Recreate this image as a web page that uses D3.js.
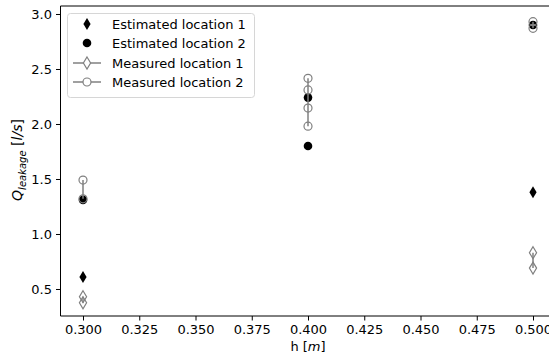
<!DOCTYPE html>
<html lang="en">
<head>
    <meta charset="UTF-8">
    <title>Leakage vs h</title>
    <script src="https://d3js.org/d3.v7.min.js"></script>
    <style>
        body { margin: 0; background: #fff; }
        svg { font-family: "DejaVu Sans", sans-serif; }
    </style>
</head>
<body>
    <div id="chart"></div>
    <script>
        // Data
        var est1H = [0.3, 0.5];
        var est1Q = [0.61, 1.38];
        var est2H = [0.3, 0.4, 0.4, 0.5];
        var est2Q = [1.31, 2.24, 1.80, 2.90];
        var meas1H = [0.3, 0.3, 0.5, 0.5];
        var meas1Q = [0.43, 0.375, 0.83, 0.69];
        var meas2H = [0.3, 0.3, 0.4, 0.4, 0.4, 0.4, 0.5, 0.5];
        var meas2Q = [1.49, 1.32, 2.415, 2.31, 2.145, 1.98, 2.93, 2.87];
        var xTicks = [0.3, 0.325, 0.35, 0.375, 0.4, 0.425, 0.45, 0.475, 0.5];
        var yTicks = [0.5, 1.0, 1.5, 2.0, 2.5, 3.0];
        var legendLabels = ["Estimated location 1", "Estimated location 2", "Measured location 1", "Measured location 2"];

        var width = 549, height = 359;
        var pL = 60.5, pR = 555.5, pT = 6, pB = 316;
        var grey = "#808080";
        var fs = "13px";

        var svg = d3.select("#chart").append("svg")
            .attr("width", width)
            .attr("height", height);

        var x = d3.scaleLinear().domain([0.29, 0.51]).range([pL, pR]);
        var y = d3.scaleLinear().domain([0.2545, 3.0727]).range([pB, pT]);

        // axes
        var xAxis = svg.append("g")
            .attr("transform", "translate(0," + pB + ")")
            .call(d3.axisBottom(x).tickValues(xTicks).tickFormat(d3.format(".3f")).tickSizeOuter(0).tickSize(4.5).tickPadding(4));
        var yAxis = svg.append("g")
            .attr("transform", "translate(" + pL + ",0)")
            .call(d3.axisLeft(y).tickValues(yTicks).tickFormat(d3.format(".1f")).tickSizeOuter(0).tickSize(4.5).tickPadding(4));
        [xAxis, yAxis].forEach(function(a) {
            a.select(".domain").remove();
            a.selectAll("text").attr("font-size", fs).attr("fill", "#000").attr("font-family", "DejaVu Sans");
            a.selectAll("line").attr("stroke", "#000").attr("stroke-width", 1);
        });

        // spines
        svg.append("line").attr("x1", pL).attr("x2", pL).attr("y1", pT).attr("y2", pB).attr("stroke", "#000");
        svg.append("line").attr("x1", pL).attr("x2", pR).attr("y1", pB).attr("y2", pB).attr("stroke", "#000");
        svg.append("line").attr("x1", pL).attr("x2", pR).attr("y1", pT).attr("y2", pT).attr("stroke", "#000");
        svg.append("line").attr("x1", pR).attr("x2", pR).attr("y1", pT).attr("y2", pB).attr("stroke", "#000");

        var diamond = "M0,-6L3.6,0L0,6L-3.6,0Z";

        function zip(a, b) { return a.map(function(v, i) { return [v, b[i]]; }); }

        // estimated location 1
        svg.append("g").selectAll("path").data(zip(est1H, est1Q)).enter().append("path")
            .attr("d", diamond)
            .attr("transform", function(d) { return "translate(" + x(d[0]) + "," + y(d[1]) + ")"; })
            .attr("fill", "#000");

        // estimated location 2
        svg.append("g").selectAll("circle").data(zip(est2H, est2Q)).enter().append("circle")
            .attr("cx", function(d) { return x(d[0]); })
            .attr("cy", function(d) { return y(d[1]); })
            .attr("r", 4.3)
            .attr("fill", "#000");

        // measured: one vertical segment per h value
        function drawMeasured(hs, qs, shape) {
            var g = svg.append("g");
            var groups = d3.groups(zip(hs, qs), function(d) { return d[0]; });
            groups.forEach(function(grp) {
                var ext = d3.extent(grp[1], function(d) { return d[1]; });
                g.append("line")
                    .attr("x1", x(grp[0])).attr("x2", x(grp[0]))
                    .attr("y1", y(ext[0])).attr("y2", y(ext[1]))
                    .attr("stroke", grey).attr("stroke-width", 1.5);
            });
            var pts = g.selectAll(".m").data(zip(hs, qs)).enter();
            if (shape === "diamond") {
                pts.append("path").attr("d", diamond)
                    .attr("transform", function(d) { return "translate(" + x(d[0]) + "," + y(d[1]) + ")"; })
                    .attr("fill", "none").attr("stroke", grey).attr("stroke-width", 1.2);
            } else {
                pts.append("circle")
                    .attr("cx", function(d) { return x(d[0]); })
                    .attr("cy", function(d) { return y(d[1]); })
                    .attr("r", 4)
                    .attr("fill", "none").attr("stroke", grey).attr("stroke-width", 1.2);
            }
        }
        drawMeasured(meas1H, meas1Q, "diamond");
        drawMeasured(meas2H, meas2Q, "circle");

        // axis labels
        var xl = svg.append("text").attr("x", (pL + pR) / 2).attr("y", 351)
            .attr("text-anchor", "middle").attr("font-size", fs);
        xl.append("tspan").text("h [");
        xl.append("tspan").attr("font-style", "italic").text("m");
        xl.append("tspan").text("]");

        var yl = svg.append("text").attr("transform", "translate(22,160) rotate(-90)")
            .attr("text-anchor", "middle").attr("font-size", "14px");
        yl.append("tspan").attr("font-style", "italic").text("Q");
        yl.append("tspan").attr("font-style", "italic").attr("font-size", "10px").attr("dy", 3.5).text("leakage");
        yl.append("tspan").attr("dy", -3.5).text(" [");
        yl.append("tspan").attr("font-style", "italic").text("l/s");
        yl.append("tspan").text("]");

        // legend
        var lg = svg.append("g");
        lg.append("rect").attr("x", 67.5).attr("y", 13.5).attr("width", 187).attr("height", 84)
            .attr("rx", 3).attr("fill", "#fff").attr("fill-opacity", 0.8)
            .attr("stroke", "#d6d6d6");
        var rowY = [24, 43, 63, 82];
        legendLabels.forEach(function(lab, i) {
            var cy = rowY[i];
            if (i >= 2) {
                lg.append("line").attr("x1", 73).attr("x2", 101).attr("y1", cy).attr("y2", cy)
                    .attr("stroke", grey).attr("stroke-width", 1.5);
            }
            if (i === 0) {
                lg.append("path").attr("d", diamond).attr("transform", "translate(87," + cy + ")").attr("fill", "#000");
            } else if (i === 1) {
                lg.append("circle").attr("cx", 87).attr("cy", cy).attr("r", 4.3).attr("fill", "#000");
            } else if (i === 2) {
                lg.append("path").attr("d", diamond).attr("transform", "translate(87," + cy + ")")
                    .attr("fill", "#fff").attr("stroke", grey).attr("stroke-width", 1.2);
            } else {
                lg.append("circle").attr("cx", 87).attr("cy", cy).attr("r", 4)
                    .attr("fill", "#fff").attr("stroke", grey).attr("stroke-width", 1.2);
            }
            lg.append("text").attr("x", 112).attr("y", cy).attr("dy", "0.35em")
                .attr("font-size", fs).text(lab);
        });
    </script>
</body>
</html>
